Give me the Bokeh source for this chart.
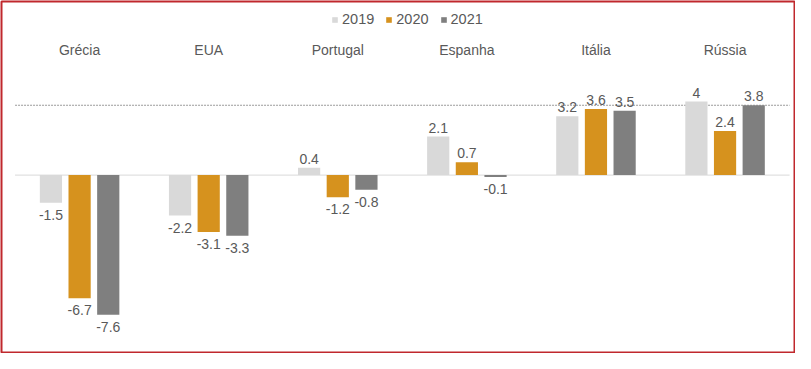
from bokeh.plotting import figure
from bokeh.models import ColumnDataSource, Range1d, Legend, LegendItem
from bokeh.core.properties import value
from bokeh.embed import file_html
from bokeh.resources import INLINE

countries = ["Grécia", "EUA", "Portugal", "Espanha", "Itália", "Rússia"]
years = ["2019", "2020", "2021"]
v2019 = [-1.5, -2.2, 0.4, 2.1, 3.2, 4.0]
v2020 = [-6.7, -3.1, -1.2, 0.7, 3.6, 2.4]
v2021 = [-7.6, -3.3, -0.8, -0.1, 3.5, 3.8]
reference_level = 3.8

colors = ["#d9d9d9", "#d6921e", "#7f7f7f"]
series = [v2019, v2020, v2021]
offsets = [-0.222, 0.0, 0.222]
bar_w = 0.172

FONT = "Liberation Sans"
TXT = "#595959"

p = figure(width=795, height=353, output_backend="svg", toolbar_location=None,
           x_range=Range1d(-0.105, 6.038), y_range=Range1d(-9.652, 9.445),
           x_axis_location=None, y_axis_location=None,
           min_border=1, min_border_left=1, min_border_right=1,
           min_border_top=1, min_border_bottom=1,
           background_fill_color="white", border_fill_color="white")
p.grid.visible = False
p.outline_line_color = "#c0282d"
p.outline_line_width = 2

n = len(countries)
centers = [i + 0.5 for i in range(n)]

# zero line and dotted reference line
p.line(x=[0, n], y=[0, 0], line_color="#d9d9d9", line_width=1)
p.line(x=[0, n], y=[reference_level, reference_level], line_color="#9a9a9a",
       line_width=1, line_dash="2 1")

renderers = []
for vals, off, col, yr in zip(series, offsets, colors, years):
    xs = [c + off for c in centers]
    src = ColumnDataSource(dict(x=xs, top=vals))
    r = p.vbar(x="x", top="top", bottom=0, width=bar_w, source=src,
               fill_color=col, line_color=None)
    renderers.append((yr, r))
    pos = [(x, v, f"{v:g}") for x, v in zip(xs, vals) if v >= 0]
    neg = [(x, v, f"{v:g}") for x, v in zip(xs, vals) if v < 0]
    if pos:
        s = ColumnDataSource(dict(x=[a[0] for a in pos], y=[a[1] for a in pos],
                                  t=[a[2] for a in pos]))
        p.text(x="x", y="y", text="t", source=s, text_align="center",
               text_baseline="bottom", y_offset=-4, text_font=value(FONT),
               text_font_size="14px", text_color=TXT)
    if neg:
        s = ColumnDataSource(dict(x=[a[0] for a in neg], y=[a[1] for a in neg],
                                  t=[a[2] for a in neg]))
        p.text(x="x", y="y", text="t", source=s, text_align="center",
               text_baseline="top", y_offset=7, text_font=value(FONT),
               text_font_size="14px", text_color=TXT)

# category labels on top
cs = ColumnDataSource(dict(x=centers, y=[6.8] * n, t=countries))
p.text(x="x", y="y", text="t", source=cs, text_align="center",
       text_baseline="alphabetic", text_font=value(FONT),
       text_font_size="14px", text_color=TXT)

legend = Legend(items=[LegendItem(label=yr, renderers=[r]) for yr, r in renderers],
                orientation="horizontal", location=(330, 325),
                glyph_width=7, glyph_height=7, label_standoff=4, spacing=11,
                padding=0, margin=0, label_height=14,
                label_text_font=FONT, label_text_font_size="14.5px",
                label_text_color=TXT, border_line_color=None,
                background_fill_alpha=0)
p.add_layout(legend)

open("out.html", "w").write(file_html(p, INLINE))
